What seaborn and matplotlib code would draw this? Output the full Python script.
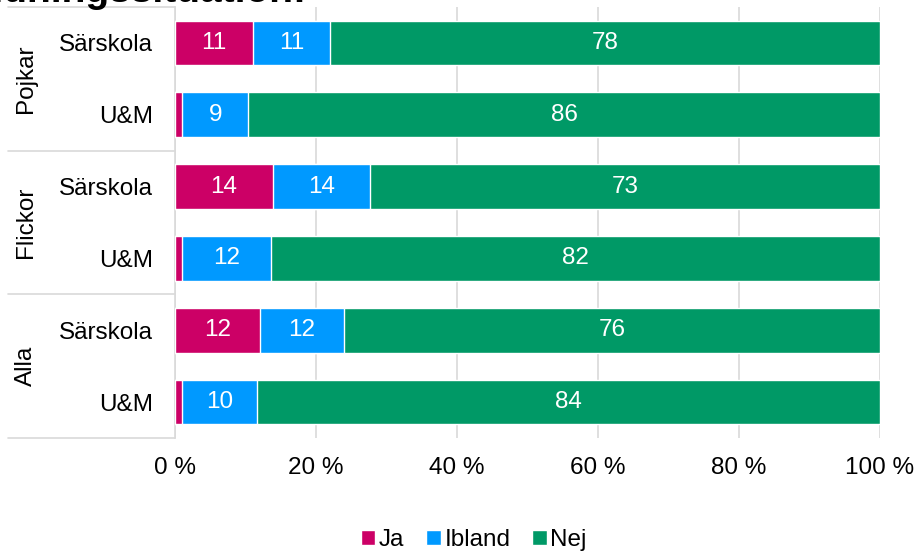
import matplotlib
matplotlib.use("Agg")
import matplotlib.pyplot as plt
import matplotlib.transforms as mtransforms
from matplotlib.patches import Patch
import numpy as np
import pandas as pd
import seaborn as sns

# data
groups = ["Pojkar", "Pojkar", "Flickor", "Flickor", "Alla", "Alla"]
schools = ["Särskola", "U&M", "Särskola", "U&M", "Särskola", "U&M"]
ja = [11, 1, 14, 1, 12, 1]
ibland = [11, 9, 14, 12, 12, 10]
nej = [78, 86, 73, 82, 76, 84]
series = ["Ja", "Ibland", "Nej"]
colors = {"Ja": "#CC0066", "Ibland": "#0099FF", "Nej": "#009966"}
title = "utbildningssituation:"

sns.set_style("white")
plt.rcParams["font.family"] = ["Liberation Sans", "DejaVu Sans"]
plt.rcParams["text.color"] = "black"
plt.rcParams["xtick.color"] = "black"
plt.rcParams["ytick.color"] = "black"
fs = 17.5

df = pd.DataFrame({"grupp": groups, "skola": schools,
                   "Ja": ja, "Ibland": ibland, "Nej": nej})
df["rad"] = df["grupp"] + "|" + df["skola"]
total = df[series].sum(axis=1)
pct = df[series].div(total, axis=0) * 100
cum = pct.cumsum(axis=1)

fig = plt.figure(figsize=(9.18, 5.53), dpi=100)
ax = fig.add_axes([175 / 918, 1 - 438 / 553, 705 / 918, 431 / 553])

# stacked bars: draw cumulative widths, largest first
for s in reversed(series):
    sns.barplot(x=cum[s], y=df["rad"], orient="h", color=colors[s],
                width=0.62, saturation=1, ax=ax, zorder=3)

# value labels in the middle of each segment
for i in range(len(df)):
    left = 0
    for s in series:
        w = pct.loc[i, s]
        if df.loc[i, s] >= 5:
            ax.text(left + w / 2, i, str(df.loc[i, s]), ha="center", va="center",
                    color="white", fontsize=fs, zorder=4)
        left += w

ax.set_xlim(0, 100)
ax.set_ylim(5.5, -0.5)
ax.set_xticks([0, 20, 40, 60, 80, 100])
ax.set_xticklabels([f"{t} %" for t in [0, 20, 40, 60, 80, 100]])
ax.set_yticks(range(len(df)))
ax.set_yticklabels(schools)
ax.set_xlabel("")
ax.set_ylabel("")
ax.tick_params(axis="x", length=0, pad=14, labelsize=fs, labelcolor="black")
ax.tick_params(axis="y", length=0, pad=16, labelsize=fs, labelcolor="black")
ax.xaxis.grid(True, color="#D9D9D9", lw=1.2, zorder=0)
ax.set_axisbelow(True)
for side in ["top", "right", "bottom"]:
    ax.spines[side].set_visible(False)
ax.spines["left"].set_color("#D9D9D9")
ax.spines["left"].set_linewidth(1.2)

# group separators and group labels on the left
trans = mtransforms.blended_transform_factory(ax.transAxes, ax.transData)
x0 = (8 - 175) / 705
for yb in [-0.5, 1.5, 3.5, 5.5]:
    ax.plot([x0, 0], [yb, yb], transform=trans, color="#D9D9D9", lw=1.2,
            clip_on=False)
for k, g in enumerate(["Pojkar", "Flickor", "Alla"]):
    ax.text((26 - 175) / 705, 2 * k + 0.5, g, transform=trans, rotation=90,
            ha="center", va="center", fontsize=fs)

handles = [Patch(facecolor=colors[s], label=s) for s in series]
fig.legend(handles=handles, loc="center", bbox_to_anchor=(0.516, 1 - 540 / 553),
           ncol=3, frameon=False, fontsize=fs, handlelength=0.6,
           handleheight=0.6, handletextpad=0.15, columnspacing=0.9)

fig.text(307 / 918, 1 - 2 / 553, title, ha="right", va="baseline",
         fontsize=28, fontweight="bold")

fig.savefig("out.png", dpi=100)
